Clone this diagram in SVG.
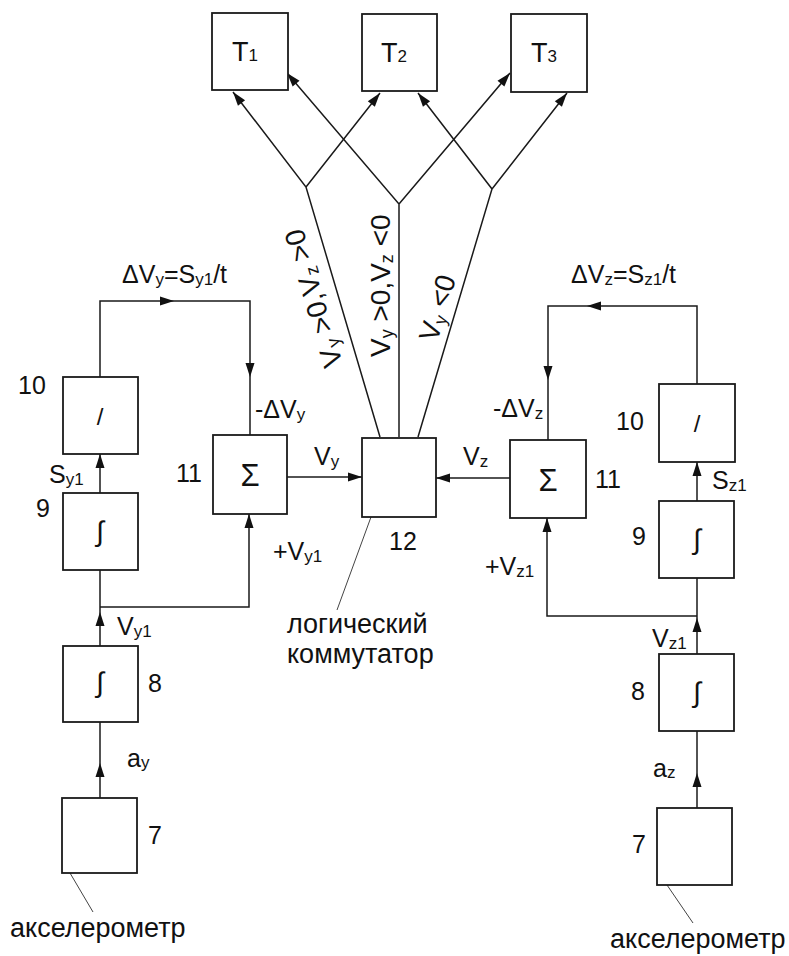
<svg xmlns="http://www.w3.org/2000/svg" xmlns:xlink="http://www.w3.org/1999/xlink" width="789" height="956" viewBox="0 0 789 956">
<style>
text{font-family:"Liberation Sans",Arial,sans-serif;fill:#111;}
.box{fill:#fff;stroke:#1a1a1a;stroke-width:1.8;}
.ln{fill:none;stroke:#1a1a1a;stroke-width:1.5;}
.thin{fill:none;stroke:#444;stroke-width:1;}
.lbl{font-size:25px;}
.tl{font-size:27px;}
.num{font-size:25px;}
.cyr{font-size:27px;}
.sig{font-size:31px;text-anchor:middle;}
.div{font-size:24px;text-anchor:middle;}
.int{font-size:28px;text-anchor:middle;}
.rot{font-size:28px;}
.s{font-size:17px;}
.sr{font-size:18px;}
</style>
<defs>
<path id="ah" d="M0,0 L-14,-4.5 L-14,4.5 Z" fill="#111"/>
</defs>
<rect width="789" height="956" fill="#fff"/>

<g id="connectors">
<path class="ln" d="M380,437 L306,187 L233,92 M306,187 L380,93"/>
<path class="ln" d="M399,437 L399,204 L287,73 M399,204 L510,73"/>
<path class="ln" d="M418,437 L492,189 L418,93 M492,189 L567,93"/>
<use href="#ah" transform="translate(233,92) rotate(-127.5)"/>
<use href="#ah" transform="translate(380,93) rotate(-51.8)"/>
<use href="#ah" transform="translate(287,73) rotate(-130.5)"/>
<use href="#ah" transform="translate(510,73) rotate(-49.7)"/>
<use href="#ah" transform="translate(418,93) rotate(-127.6)"/>
<use href="#ah" transform="translate(567,93) rotate(-52)"/>
<path class="ln" d="M100,377 L100,301 L250,301 L250,435"/>
<use href="#ah" transform="translate(174,301)"/>
<use href="#ah" transform="translate(250,377) rotate(90)"/>
<path class="ln" d="M100,493 L100,454"/>
<use href="#ah" transform="translate(100,454) rotate(-90)"/>
<path class="ln" d="M100,646 L100,570 M100,607 L249,607 L249,514"/>
<use href="#ah" transform="translate(100,612) rotate(-90)"/>
<use href="#ah" transform="translate(249,514) rotate(-90)"/>
<path class="ln" d="M100,798 L100,722"/>
<use href="#ah" transform="translate(100,763) rotate(-90)"/>
<path class="ln" d="M287,477 L362,477"/>
<use href="#ah" transform="translate(362,477)"/>
<path class="ln" d="M697,384 L697,306 L548,306 L548,440"/>
<use href="#ah" transform="translate(587,306) rotate(180)"/>
<use href="#ah" transform="translate(548,380) rotate(90)"/>
<path class="ln" d="M697,501 L697,462"/>
<use href="#ah" transform="translate(697,462) rotate(-90)"/>
<path class="ln" d="M697,654 L697,578 M697,616 L547,616 L547,518"/>
<use href="#ah" transform="translate(697,618) rotate(-90)"/>
<use href="#ah" transform="translate(547,518) rotate(-90)"/>
<path class="ln" d="M697,808 L697,731"/>
<use href="#ah" transform="translate(697,773) rotate(-90)"/>
<path class="ln" d="M510,478 L436,478"/>
<use href="#ah" transform="translate(436,478) rotate(180)"/>
<path class="thin" d="M70,873 L93,912 M667,885 L693,923 M371,517 L337,610"/>
</g>

<g id="T1"><rect class="box" x="212" y="13" width="76" height="77"/><text class="tl" x="232" y="61">T<tspan class="s">1</tspan></text></g>
<g id="T2"><rect class="box" x="362" y="14" width="75" height="77"/><text class="tl" x="381" y="62">T<tspan class="s">2</tspan></text></g>
<g id="T3"><rect class="box" x="511" y="14" width="76" height="78"/><text class="tl" x="531" y="62">T<tspan class="s">3</tspan></text></g>

<g id="switch12"><rect class="box" x="362" y="438" width="74" height="79"/><text class="num" x="389" y="550">12</text></g>

<g id="L10"><rect class="box" x="63" y="377" width="75" height="77"/><text class="div" x="100" y="425">/</text><text class="num" x="18" y="394">10</text></g>
<g id="L9"><rect class="box" x="63" y="493" width="75" height="77"/><text class="int" x="100" y="541">∫</text><text class="num" x="36" y="517">9</text></g>
<g id="L8"><rect class="box" x="63" y="646" width="75" height="76"/><text class="int" x="100" y="692">∫</text><text class="num" x="148" y="692">8</text></g>
<g id="L7"><rect class="box" x="62" y="798" width="75" height="75"/><text class="num" x="148" y="844">7</text></g>
<g id="L11"><rect class="box" x="213" y="435" width="74" height="79"/><text class="sig" x="250" y="486">Σ</text><text class="num" x="176" y="482">11</text></g>

<g id="R10"><rect class="box" x="659" y="384" width="76" height="78"/><text class="div" x="697" y="432">/</text><text class="num" x="616" y="430">10</text></g>
<g id="R9"><rect class="box" x="659" y="501" width="75" height="77"/><text class="int" x="697" y="549">∫</text><text class="num" x="632" y="545">9</text></g>
<g id="R8"><rect class="box" x="659" y="654" width="75" height="77"/><text class="int" x="697" y="702">∫</text><text class="num" x="631" y="700">8</text></g>
<g id="R7"><rect class="box" x="657" y="808" width="75" height="77"/><text class="num" x="632" y="853">7</text></g>
<g id="R11"><rect class="box" x="510" y="440" width="76" height="78"/><text class="sig" x="548" y="491">Σ</text><text class="num" x="595" y="488">11</text></g>

<g id="labels">
<text class="lbl" x="122" y="283">ΔV<tspan class="s" dy="2">y</tspan><tspan dy="-2">=S</tspan><tspan class="s" dy="2">y1</tspan><tspan dy="-2">/t</tspan></text>
<text class="lbl" x="571" y="283">ΔV<tspan class="s" dy="2">z</tspan><tspan dy="-2">=S</tspan><tspan class="s" dy="2">z1</tspan><tspan dy="-2">/t</tspan></text>
<text class="lbl" x="255" y="418">-ΔV<tspan class="s" dy="2">y</tspan></text>
<text class="lbl" x="493" y="417">-ΔV<tspan class="s" dy="2">z</tspan></text>
<text class="lbl" x="49" y="483">S<tspan class="s" dy="2">y1</tspan></text>
<text class="lbl" x="712" y="489">S<tspan class="s" dy="2">z1</tspan></text>
<text class="lbl" x="273" y="560">+V<tspan class="s" dy="2">y1</tspan></text>
<text class="lbl" x="485" y="575">+V<tspan class="s" dy="2">z1</tspan></text>
<text class="lbl" x="117" y="635">V<tspan class="s" dy="2">y1</tspan></text>
<text class="lbl" x="652" y="647">V<tspan class="s" dy="2">z1</tspan></text>
<text class="lbl" x="127" y="767">a<tspan class="s" dy="1">y</tspan></text>
<text class="lbl" x="653" y="777">a<tspan class="s" dy="1">z</tspan></text>
<text class="lbl" x="314" y="465">V<tspan class="s" dy="2">y</tspan></text>
<text class="lbl" x="463" y="465">V<tspan class="s" dy="2">z</tspan></text>
<text class="cyr" x="10" y="937">акселерометр</text>
<text class="cyr" x="610" y="948">акселерометр</text>
<text class="cyr" x="287" y="633">логический</text>
<text class="cyr" x="287" y="663">коммутатор</text>
<text class="rot" transform="translate(343,364) rotate(-106.5)">V<tspan class="sr" dy="3">y</tspan><tspan dy="-3"> &gt;0,V</tspan><tspan class="sr" dy="3">z</tspan><tspan dy="-3"> &gt;0</tspan></text>
<text class="rot" transform="translate(390,357) rotate(-90)">V<tspan class="sr" dy="3">y</tspan><tspan dy="-3"> &gt;0,V</tspan><tspan class="sr" dy="3">z</tspan><tspan dy="-3"> &lt;0</tspan></text>
<text class="rot" transform="translate(437,343) rotate(-73.4)">V<tspan class="sr" dy="3">y</tspan><tspan dy="-3"> &lt;0</tspan></text>
</g>
</svg>
